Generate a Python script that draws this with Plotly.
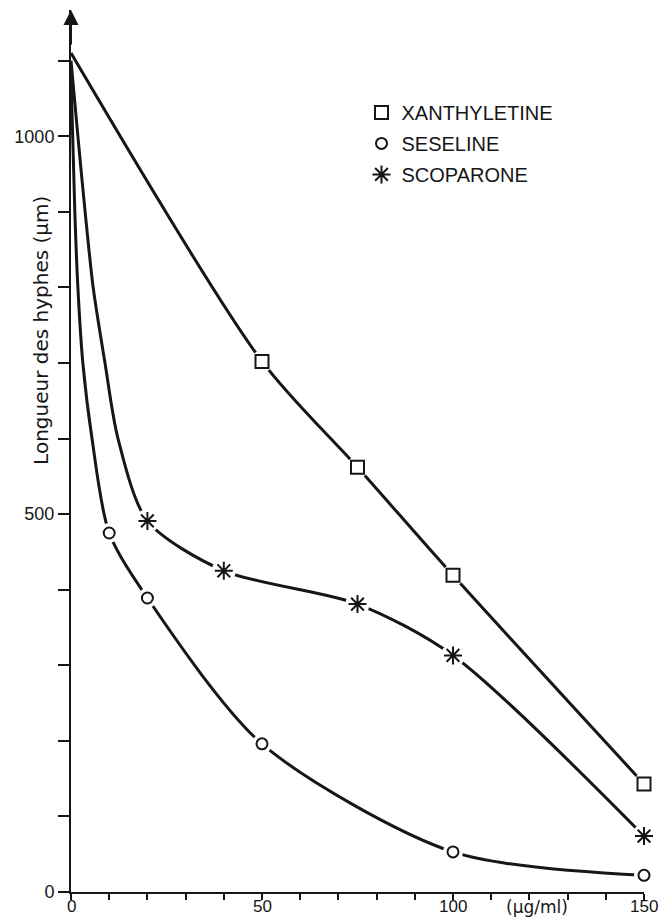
import plotly.graph_objects as go

# Concentration (µg/ml) and hyphal length (µm) for each compound.
# *_curve arrays trace the drawn curve; *_x / *_y are the measured points.
xan_curve_x = [0, 50, 75, 100, 150]
xan_curve_y = [1110, 702, 562, 419, 143]
xan_x = [50, 75, 100, 150]
xan_y = [702, 562, 419, 143]

ses_curve_x = [0, 1.0, 1.8, 3.1, 5.5, 10, 20, 50, 100, 150]
ses_curve_y = [1080, 900, 800, 700, 600, 475, 389, 196, 53, 22]
ses_x = [10, 20, 50, 100, 150]
ses_y = [475, 389, 196, 53, 22]

sco_curve_x = [0, 1.8, 3.7, 5.8, 8.9, 12.3, 20, 40, 75, 100, 150]
sco_curve_y = [1100, 1000, 900, 800, 700, 600, 491, 425, 381, 313, 74]
sco_x = [20, 40, 75, 100, 150]
sco_y = [491, 425, 381, 313, 74]

names = ["XANTHYLETINE", "SESELINE", "SCOPARONE"]

x_ticks = list(range(0, 151, 10))
x_label_vals = [0, 50, 100, 150]
y_ticks = list(range(0, 1101, 100))
y_labels = [str(v) if v in (0, 500, 1000) else "" for v in y_ticks]

INK = "#161616"
fig = go.Figure()

series = [
    (xan_curve_x, xan_curve_y, xan_x, xan_y, "square", 13, names[0]),
    (ses_curve_x, ses_curve_y, ses_x, ses_y, "circle", 11, names[1]),
    (sco_curve_x, sco_curve_y, sco_x, sco_y, "asterisk-open", 15, names[2]),
]

for cx, cy, mx, my, sym, size, name in series:
    fig.add_trace(go.Scatter(
        x=cx, y=cy, mode="lines",
        line=dict(color=INK, width=3, shape="spline", smoothing=0.8),
        showlegend=False, hoverinfo="skip", cliponaxis=False,
    ))
    # white halo so the curve breaks around each point
    fig.add_trace(go.Scatter(
        x=mx, y=my, mode="markers",
        marker=dict(symbol="circle", size=size + 9, color="white", line=dict(width=0)),
        showlegend=False, hoverinfo="skip", cliponaxis=False,
    ))
    fig.add_trace(go.Scatter(
        x=mx, y=my, mode="markers", name=name, legendgroup=name,
        marker=dict(symbol=sym, size=size, color="white" if sym != "asterisk-open" else INK,
                    line=dict(color=INK, width=2)),
        cliponaxis=False,
    ))

# axis arrow head on the vertical axis
fig.add_annotation(x=0, y=1167, xref="x", yref="y", ax=0, ay=36, axref="pixel", ayref="pixel",
                   showarrow=True, arrowhead=2, arrowsize=1.5, arrowwidth=2, arrowcolor=INK, text="")

fig.add_annotation(x=-0.076, xref="paper", y=743, yref="y", text="Longueur des hyphes (µm)",
                   textangle=-90, showarrow=False,
                   font=dict(family="DejaVu Sans", size=20, color=INK))

# horizontal tick labels, set just under the tick marks
for v in x_label_vals:
    fig.add_annotation(x=v, xref="x", y=-0.005, yref="paper", yanchor="top",
                       text=str(v), showarrow=False, borderpad=0,
                       font=dict(family="Liberation Sans", size=17, color=INK))

fig.add_annotation(x=122, xref="x", y=-0.005, yref="paper", yanchor="top",
                   text="(µg/ml)", showarrow=False, borderpad=0,
                   font=dict(family="DejaVu Sans", size=17, color=INK))

fig.update_layout(
    width=663, height=918,
    margin=dict(l=71, r=19, t=10, b=26),
    paper_bgcolor="white", plot_bgcolor="white",
    showlegend=True,
    legend=dict(x=0.507, y=0.906, xanchor="left", yanchor="top",
                font=dict(family="Liberation Sans", size=20, color=INK),
                bgcolor="rgba(0,0,0,0)", itemsizing="trace", tracegroupgap=2),
    xaxis=dict(range=[0, 150], showgrid=False, zeroline=False, showline=True,
               linecolor=INK, linewidth=2, ticks="outside", ticklen=6, tickwidth=2,
               tickcolor=INK, tickvals=x_ticks, showticklabels=False, automargin=False),
    yaxis=dict(range=[0, 1167], showgrid=False, zeroline=False, showline=True,
               linecolor=INK, linewidth=2, ticks="outside", ticklen=11, tickwidth=2,
               tickcolor=INK, tickvals=y_ticks, ticktext=y_labels, automargin=False,
               tickfont=dict(family="Liberation Sans", size=18, color=INK)),
)

fig.write_html("out.html")
